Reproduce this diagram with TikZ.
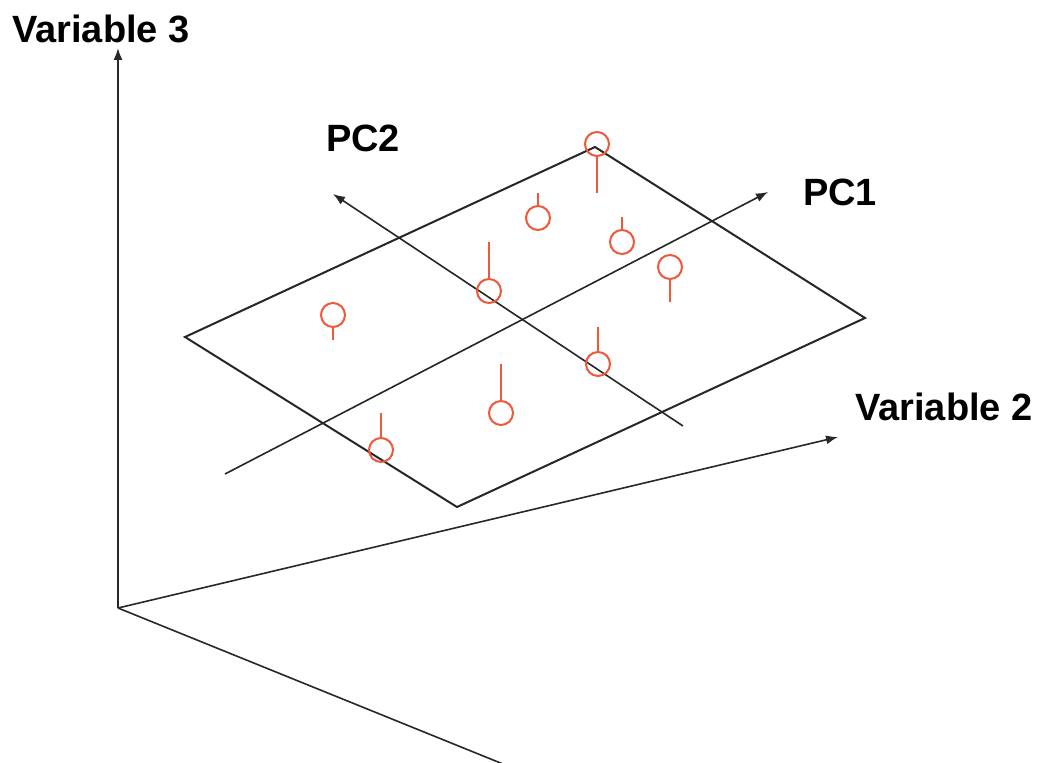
\documentclass[tikz,border=0pt]{standalone}
\usepackage{fontspec}
\setmainfont{Liberation Sans}
\usetikzlibrary{arrows.meta}
\definecolor{pointred}{RGB}{240,88,58}
\definecolor{axisgray}{RGB}{40,40,40}
\tikzset{
  axisline/.style={draw=axisgray, line width=1.6pt},
  axisarrow/.style={axisline, -{Latex[length=12pt,width=9pt]}},
  planeedge/.style={draw=black!85, line width=2pt, line join=miter},
  pcline/.style={draw=black!85, line width=1.6pt},
  pcarrow/.style={pcline, -{Latex[length=12pt,width=9pt]}},
  datapoint/.style={circle, draw=pointred, line width=2pt, minimum size=24pt, inner sep=0pt},
  stem/.style={draw=pointred, line width=2pt},
  axislabel/.style={font=\bfseries\fontsize{38}{40}\selectfont, inner sep=0pt, anchor=base west}
}
\begin{document}
\begin{tikzpicture}[x=1pt, y=-1pt]
\useasboundingbox (0,0) rectangle (1040,762);
\fill[white] (0,0) rectangle (1040,762);

% variable axes
\coordinate (O) at (118,608);
\coordinate (v3tip) at (118,48);
\coordinate (v2tip) at (838,437);
\coordinate (v1end) at (503,764);
\draw[axisarrow] (O) -- (v3tip);
\draw[axisarrow] (O) -- (v2tip);
\draw[axisline] (O) -- (v1end);

% labels
\node[axislabel] (lv3) at (12,43) {Variable 3};
\node[axislabel] (lv2) at (855,420) {Variable 2};
\node[axislabel] (lpc1) at (803,205) {PC1};
\node[axislabel] (lpc2) at (326,152) {PC2};

% principal-component plane
\coordinate (pT) at (595,147);
\coordinate (pR) at (865,318);
\coordinate (pB) at (457,507);
\coordinate (pL) at (185,337);
\draw[planeedge] (pT) -- (pR) -- (pB) -- (pL) -- cycle;

% principal-component directions
\coordinate (pc1s) at (225,474);
\coordinate (pc1t) at (768,192);
\coordinate (pc2s) at (683,426);
\coordinate (pc2t) at (333,194);
\draw[pcarrow] (pc1s) -- (pc1t);
\draw[pcarrow] (pc2s) -- (pc2t);

% observations and their offsets from the plane
\node[datapoint] (d1) at (597,144) {};
\coordinate (s1) at (597,193);
\draw[stem] (d1) -- (s1);

\node[datapoint] (d2) at (538,218) {};
\coordinate (s2) at (538,193);
\draw[stem] (d2) -- (s2);

\node[datapoint] (d3) at (622,242) {};
\coordinate (s3) at (622,217);
\draw[stem] (d3) -- (s3);

\node[datapoint] (d4) at (489,291) {};
\coordinate (s4) at (489,242);
\draw[stem] (d4) -- (s4);

\node[datapoint] (d5) at (670,267) {};
\coordinate (s5) at (670,302);
\draw[stem] (d5) -- (s5);

\node[datapoint] (d6) at (333,315) {};
\coordinate (s6) at (333,340);
\draw[stem] (d6) -- (s6);

\node[datapoint] (d7) at (598,364) {};
\coordinate (s7) at (598,327);
\draw[stem] (d7) -- (s7);

\node[datapoint] (d8) at (501,413) {};
\coordinate (s8) at (501,364);
\draw[stem] (d8) -- (s8);

\node[datapoint] (d9) at (381,450) {};
\coordinate (s9) at (381,413);
\draw[stem] (d9) -- (s9);
\end{tikzpicture}
\end{document}
